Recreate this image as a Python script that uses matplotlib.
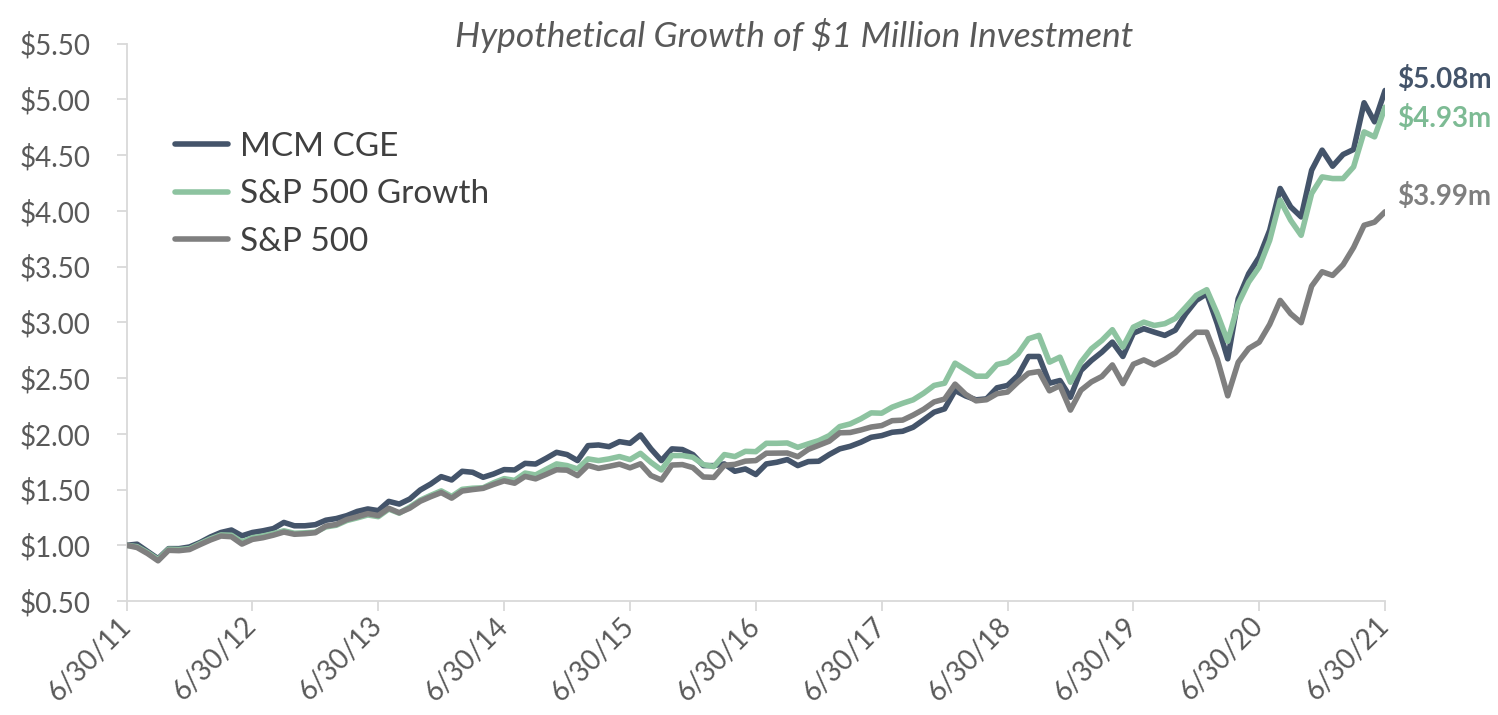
import matplotlib
matplotlib.use("Agg")
import matplotlib.pyplot as plt
import numpy as np

# ---------------- data ----------------
tick_labels = ["6/30/11", "6/30/12", "6/30/13", "6/30/14", "6/30/15", "6/30/16",
               "6/30/17", "6/30/18", "6/30/19", "6/30/20", "6/30/21"]

mcm_cge = [
    1.000, 1.010, 0.945, 0.880, 0.970, 0.970, 0.985, 1.025, 1.075, 1.115,
    1.137, 1.085, 1.115, 1.130, 1.150, 1.205, 1.175, 1.175, 1.185, 1.225,
    1.240, 1.266, 1.304, 1.326, 1.311, 1.394, 1.370, 1.415, 1.496, 1.550,
    1.616, 1.586, 1.664, 1.655, 1.610, 1.640, 1.679, 1.676, 1.735, 1.729,
    1.780, 1.834, 1.814, 1.760, 1.894, 1.900, 1.885, 1.930, 1.915, 1.990,
    1.865, 1.760, 1.865, 1.859, 1.814, 1.715, 1.715, 1.730, 1.664, 1.685,
    1.635, 1.730, 1.745, 1.769, 1.715, 1.751, 1.754, 1.814, 1.865, 1.888,
    1.924, 1.969, 1.984, 2.014, 2.023, 2.059, 2.125, 2.194, 2.224, 2.389,
    2.340, 2.305, 2.314, 2.413, 2.434, 2.523, 2.694, 2.694, 2.454, 2.478,
    2.328, 2.568, 2.658, 2.733, 2.823, 2.694, 2.903, 2.943, 2.912, 2.883,
    2.930, 3.078, 3.197, 3.257, 2.988, 2.673, 3.212, 3.437, 3.586, 3.826,
    4.201, 4.036, 3.946, 4.365, 4.545, 4.401, 4.506, 4.551, 4.970, 4.799,
    5.080]

sp500_growth = [
    1.000, 0.988, 0.935, 0.872, 0.965, 0.962, 0.970, 1.015, 1.058, 1.093,
    1.090, 1.030, 1.068, 1.083, 1.105, 1.130, 1.108, 1.112, 1.118, 1.165,
    1.180, 1.222, 1.246, 1.272, 1.257, 1.325, 1.288, 1.343, 1.405, 1.448,
    1.488, 1.438, 1.502, 1.512, 1.516, 1.561, 1.598, 1.582, 1.648, 1.631,
    1.681, 1.730, 1.715, 1.685, 1.775, 1.760, 1.775, 1.796, 1.769, 1.825,
    1.744, 1.676, 1.805, 1.805, 1.790, 1.724, 1.706, 1.814, 1.796, 1.843,
    1.840, 1.915, 1.915, 1.918, 1.879, 1.910, 1.939, 1.984, 2.065, 2.089,
    2.134, 2.188, 2.185, 2.239, 2.274, 2.305, 2.364, 2.434, 2.454, 2.634,
    2.575, 2.517, 2.517, 2.622, 2.643, 2.718, 2.853, 2.883, 2.643, 2.688,
    2.463, 2.643, 2.763, 2.838, 2.934, 2.778, 2.957, 3.002, 2.972, 2.988,
    3.035, 3.137, 3.242, 3.293, 3.078, 2.830, 3.167, 3.362, 3.496, 3.736,
    4.096, 3.916, 3.781, 4.156, 4.305, 4.290, 4.290, 4.395, 4.709, 4.664,
    4.930]

sp500 = [
    1.000, 0.980, 0.926, 0.861, 0.955, 0.952, 0.962, 1.006, 1.048, 1.083,
    1.077, 1.011, 1.053, 1.068, 1.091, 1.119, 1.099, 1.104, 1.113, 1.172,
    1.187, 1.231, 1.256, 1.284, 1.267, 1.332, 1.292, 1.333, 1.395, 1.436,
    1.473, 1.423, 1.487, 1.500, 1.511, 1.546, 1.578, 1.557, 1.618, 1.596,
    1.636, 1.678, 1.674, 1.625, 1.717, 1.690, 1.708, 1.728, 1.695, 1.731,
    1.626, 1.586, 1.720, 1.724, 1.697, 1.613, 1.609, 1.718, 1.726, 1.755,
    1.760, 1.826, 1.827, 1.828, 1.795, 1.860, 1.897, 1.934, 2.009, 2.012,
    2.034, 2.061, 2.074, 2.118, 2.123, 2.168, 2.220, 2.286, 2.312, 2.446,
    2.355, 2.296, 2.306, 2.360, 2.375, 2.465, 2.544, 2.559, 2.386, 2.432,
    2.213, 2.391, 2.466, 2.515, 2.618, 2.450, 2.624, 2.663, 2.619, 2.668,
    2.727, 2.825, 2.911, 2.911, 2.671, 2.341, 2.642, 2.766, 2.822, 2.982,
    3.197, 3.077, 2.997, 3.325, 3.454, 3.421, 3.517, 3.672, 3.871, 3.899,
    3.992]

series_names = ["MCM CGE", "S&P 500 Growth", "S&P 500"]
end_labels = ["$5.08m", "$4.93m", "$3.99m"]

# ---------------- style ----------------
plt.rcParams['font.family'] = ['Lato', 'DejaVu Sans']
C_BLUE = '#44546A'
C_GREEN = '#8DC3A0'
C_GRAY = '#7F7F7F'
C_TEXT = '#595959'
C_AXIS = '#D9D9D9'

fig = plt.figure(figsize=(14.98, 7.15), dpi=100)
ax = fig.add_axes([0.0845, 0.1594, 0.8401, 0.7795])

x = np.arange(len(sp500))
lw = 4.0
ax.plot(x, mcm_cge, color=C_BLUE, lw=lw, label=series_names[0], zorder=3,
        solid_joinstyle='round', solid_capstyle='round')
ax.plot(x, sp500_growth, color=C_GREEN, lw=lw, label=series_names[1], zorder=4,
        solid_joinstyle='round', solid_capstyle='round')
ax.plot(x, sp500, color=C_GRAY, lw=lw, label=series_names[2], zorder=5,
        solid_joinstyle='round', solid_capstyle='round')

ax.set_xlim(0, len(sp500) - 1)
ax.set_ylim(0.5, 5.5)
ax.set_yticks(np.arange(0.5, 5.51, 0.5))
ax.set_yticklabels([f"${v:.2f}" for v in np.arange(0.5, 5.51, 0.5)])
ax.set_xticks(np.arange(0, len(sp500), 12))
ax.set_xticklabels(tick_labels, rotation=45, ha='right', va='center',
                   rotation_mode='anchor')

for s in ['top', 'right']:
    ax.spines[s].set_visible(False)
for s in ['left', 'bottom']:
    ax.spines[s].set_color(C_AXIS)
    ax.spines[s].set_linewidth(1.3)
ax.tick_params(axis='y', colors=C_AXIS, length=7, width=1.3, pad=19,
               labelcolor=C_TEXT, labelsize=20)
ax.tick_params(axis='x', colors=C_AXIS, length=7, width=1.3, pad=8,
               labelcolor=C_TEXT, labelsize=20)

# end-of-line value labels
last = len(sp500) - 1
offsets = [(9, 8), (9, -8), (9, 11)]
for vals, lab, col, off in zip([mcm_cge, sp500_growth, sp500], end_labels,
                               [C_BLUE, '#7DBB94', C_GRAY], offsets):
    ax.annotate(lab, xy=(last, vals[-1]), xytext=off, textcoords='offset points',
                ha='left', va='center', fontsize=20, fontweight='bold', color=col,
                annotation_clip=False)

# title
fig.text(0.530, 0.951, "Hypothetical Growth of $1 Million Investment",
         ha='center', va='center', fontsize=25.5, style='italic', color=C_TEXT)

leg = ax.legend(loc='upper left', bbox_to_anchor=(0.108, 0.834),
                bbox_transform=fig.transFigure, frameon=False, fontsize=24,
                handlelength=1.6, handletextpad=0.35, labelspacing=0.52,
                borderaxespad=0)
for t in leg.get_texts():
    t.set_color('#404040')
for h in leg.get_lines():
    h.set_linewidth(4)
    h.set_solid_capstyle('round')

fig.savefig("out.png", dpi=100)
